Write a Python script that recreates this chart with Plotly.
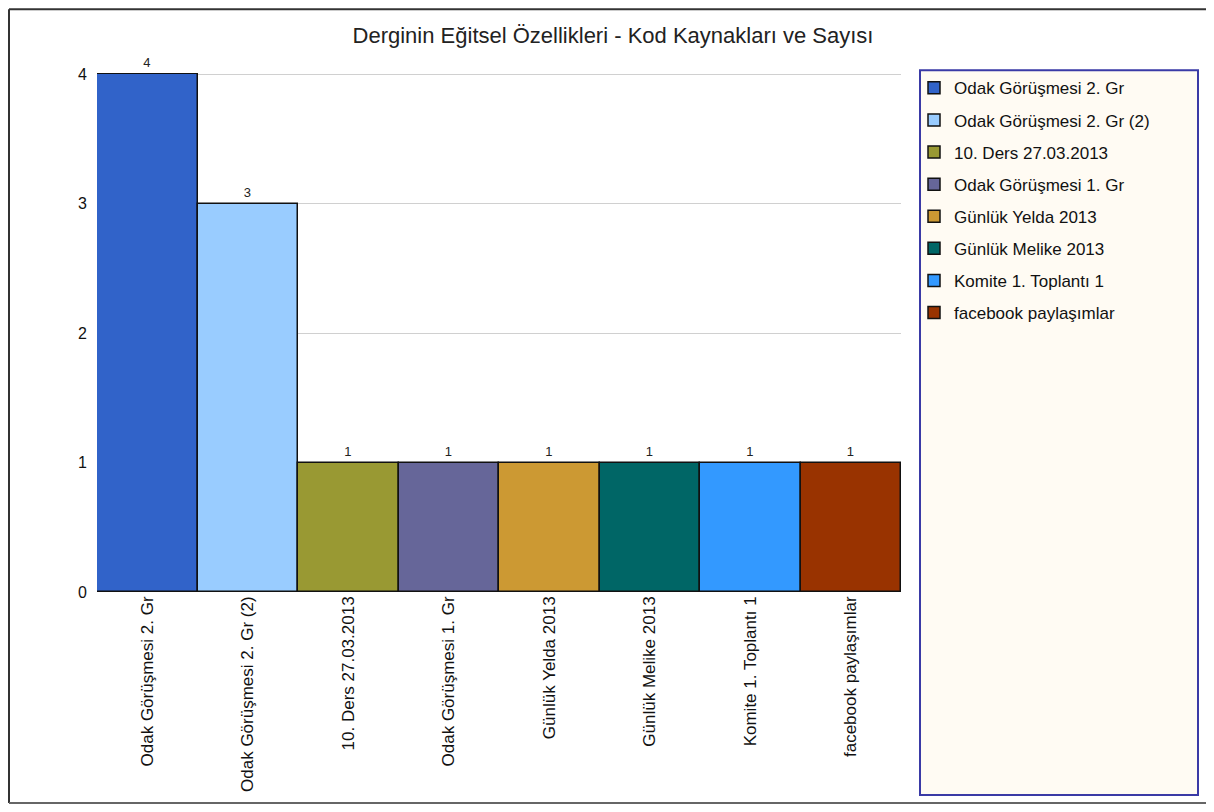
import plotly.graph_objects as go

categories = ["Odak Görüşmesi 2. Gr", "Odak Görüşmesi 2. Gr (2)", "10. Ders 27.03.2013",
              "Odak Görüşmesi 1. Gr", "Günlük Yelda 2013", "Günlük Melike 2013",
              "Komite 1. Toplantı 1", "facebook paylaşımlar"]
values = [4, 3, 1, 1, 1, 1, 1, 1]
colors = ["#3163C9", "#99CCFF", "#999933", "#666699", "#CC9933", "#006666", "#3399FF", "#993300"]
y_ticks = [0, 1, 2, 3, 4]
title = "Derginin Eğitsel Özellikleri - Kod Kaynakları ve Sayısı"

OFF = 8  # page body margin compensation
W, H = 1214 - 2 * OFF, 812 - 2 * OFF
YMAX = 4.01
L, R, B = 97 - OFF, 901 - OFF, 592 - OFF
T = B - (B - (74 - OFF)) * YMAX / 4


def px(x):
    return (x - OFF - L) / (R - L)


def py(y):
    return (B - (y - OFF)) / (B - T)


FONT = "Liberation Sans"

fig = go.Figure()
for i, (c, v, col) in enumerate(zip(categories, values, colors)):
    fig.add_trace(go.Bar(
        x=[c], y=[v], name=c, marker=dict(color=col, line=dict(color="#111111", width=1.5)),
        text=[str(v)], textposition="outside", cliponaxis=False,
        textfont=dict(family=FONT, size=13, color="#222222"),
        legendgroup=f"g{i}", width=1,
    ))

frame_line = dict(color="#333333", width=2)
x_end = px(OFF + W)
fig.update_layout(
    width=W, height=H,
    margin=dict(l=L, r=W - R, t=T, b=H - B, autoexpand=False),
    paper_bgcolor="white", plot_bgcolor="white",
    barmode="overlay", bargap=0,
    title=dict(text=title, x=(613 - OFF) / W, xanchor="center", y=1 - (35 - OFF) / H, yanchor="middle",
               font=dict(family=FONT, size=22, color="#222222")),
    font=dict(family=FONT, color="#222222"),
    showlegend=True,
    legend=dict(x=px(914), xanchor="left", y=py(70), yanchor="top",
                bgcolor="rgba(0,0,0,0)", borderwidth=0,
                font=dict(family=FONT, size=17, color="#111111"),
                traceorder="grouped", tracegroupgap=7, itemwidth=30),
    xaxis=dict(categoryorder="array", categoryarray=categories, tickangle=-90,
               tickfont=dict(family=FONT, size=17, color="#111111"),
               showline=False, showgrid=False, zeroline=False, ticks="",
               range=[-0.5, len(categories) - 0.5]),
    yaxis=dict(range=[0, YMAX], tickvals=y_ticks, showgrid=True, gridcolor="#D0D0D0", gridwidth=1,
               zeroline=False, showline=False,
               ticks="outside", ticklen=6, tickcolor="rgba(0,0,0,0)",
               tickfont=dict(family=FONT, size=16, color="#111111")),
    shapes=[
        dict(type="line", xref="paper", yref="paper", x0=px(9), x1=x_end, y0=py(9), y1=py(9),
             line=frame_line, layer="below"),
        dict(type="line", xref="paper", yref="paper", x0=px(9), x1=px(9), y0=py(9), y1=py(803),
             line=frame_line, layer="below"),
        dict(type="line", xref="paper", yref="paper", x0=px(9), x1=x_end, y0=py(803), y1=py(803),
             line=dict(color="#666666", width=2), layer="below"),
        dict(type="rect", xref="paper", yref="paper", x0=px(920), x1=px(1198), y0=py(795), y1=py(70),
             line=dict(color="#3A3AA6", width=2), fillcolor="#FFFBF3", layer="below"),
    ],
)

fig.write_html("out.html")
